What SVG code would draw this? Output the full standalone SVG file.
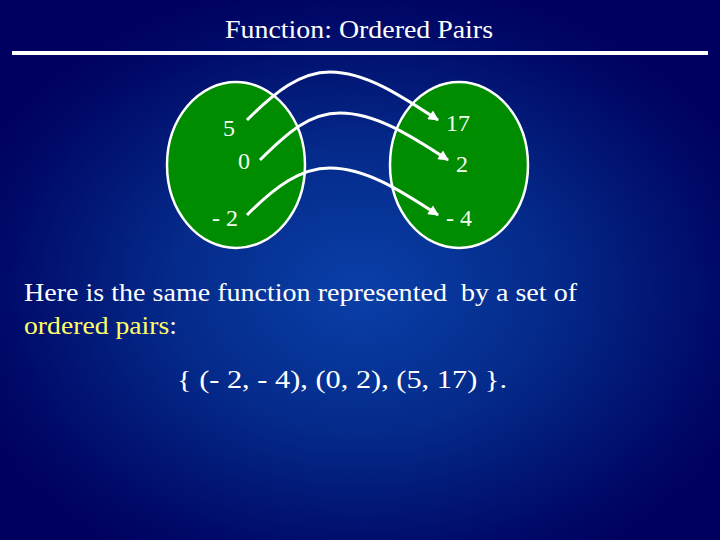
<svg xmlns="http://www.w3.org/2000/svg" width="720" height="540" viewBox="0 0 720 540">
<defs>
<radialGradient id="bg" cx="360" cy="290" r="420" gradientUnits="userSpaceOnUse" gradientTransform="translate(360 290) scale(1 0.75) translate(-360 -290)">
<stop offset="0" stop-color="#0a40a8"/>
<stop offset="0.45" stop-color="#042a8a"/>
<stop offset="0.85" stop-color="#000a68"/>
<stop offset="1" stop-color="#000060"/>
</radialGradient>
<marker id="ah" viewBox="0 0 10 10" refX="9" refY="5" markerWidth="4" markerHeight="3.5" orient="auto" markerUnits="strokeWidth">
<path d="M0 0 L10 5 L0 10 Z" fill="#ffffff"/>
</marker>
<style>
.t{font-family:"Liberation Serif","Times New Roman",serif;fill:#ffffff}
.lab{font-family:"Liberation Serif","Times New Roman",serif;fill:#f0fff0;font-size:24px}
.set{fill:#008c00;stroke:#ffffff;stroke-width:2.5}
.arr{fill:none;stroke:#ffffff;stroke-width:3;marker-end:url(#ah)}
</style>
</defs>
<rect width="720" height="540" fill="url(#bg)"/>
<text class="t" x="359" y="38" font-size="25" text-anchor="middle" textLength="268" lengthAdjust="spacingAndGlyphs">Function: Ordered Pairs</text>
<rect x="12" y="51" width="696" height="4" fill="#ffffff"/>
<g id="domain">
<ellipse class="set" cx="236" cy="165" rx="69" ry="83"/>
<text class="lab" x="229" y="136" text-anchor="middle">5</text>
<text class="lab" x="244" y="169" text-anchor="middle">0</text>
<text class="lab" x="225" y="226" text-anchor="middle">- 2</text>
</g>
<g id="range">
<ellipse class="set" cx="459" cy="165" rx="69" ry="83"/>
<text class="lab" x="458" y="131" text-anchor="middle">17</text>
<text class="lab" x="462" y="172" text-anchor="middle">2</text>
<text class="lab" x="459" y="226" text-anchor="middle">- 4</text>
</g>
<g id="connectors">
<path class="arr" d="M247 120 C275 92 300 72 330 72 C365 72 400 95 438 120"/>
<path class="arr" d="M260 160 C288 132 310 113 340 113 C375 113 410 135 448 160"/>
<path class="arr" d="M247 215 C275 187 300 168 330 168 C365 168 400 190 438 215"/>
</g>
<text class="t" x="24" y="301" font-size="26" textLength="553" lengthAdjust="spacingAndGlyphs" xml:space="preserve">Here is the same function represented  by a set of</text>
<text class="t" x="24" y="334" font-size="26" textLength="153" lengthAdjust="spacingAndGlyphs"><tspan fill="#ffff66">ordered pairs</tspan>:</text>
<text class="t" x="177" y="388" font-size="26" textLength="330" lengthAdjust="spacingAndGlyphs">{ (- 2, - 4), (0, 2), (5, 17) }.</text>
</svg>
